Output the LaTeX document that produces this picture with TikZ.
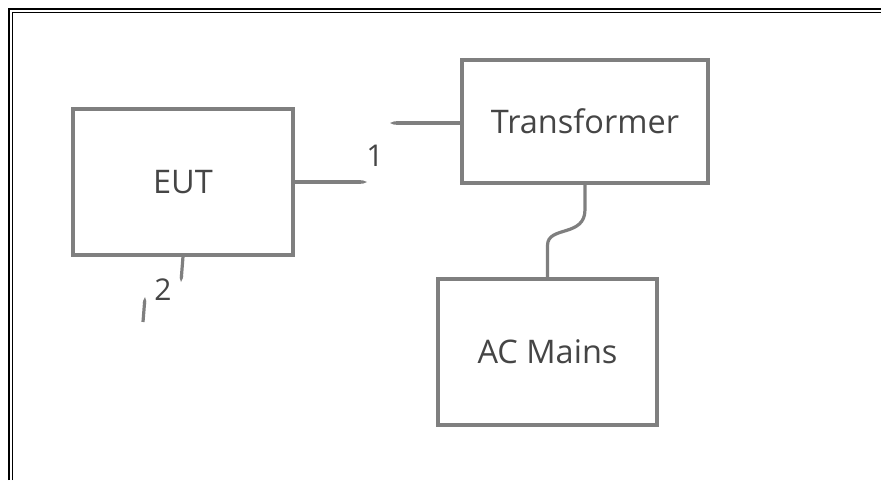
\documentclass[tikz,border=0pt]{standalone}
\usepackage{fontspec}
\setmainfont{Open Sans}
\usepackage{tikz}
\usetikzlibrary{positioning, arrows.meta, calc}

\definecolor{wiregray}{HTML}{7F7F7F}
\definecolor{textgray}{HTML}{454545}

\begin{document}
\begin{tikzpicture}
  [
    x=1pt, y=-1pt,
    block/.style={draw=wiregray, rectangle, line width=3.2pt, text=textgray,
      font=\fontsize{32.5}{36}\selectfont},
    wire/.style={draw=wiregray, line width=3.2pt},
    tipend/.style={wire, -{Triangle Cap[length=4pt]}},
    portlabel/.style={text=textgray, inner sep=0pt, font=\fontsize{30}{34}\selectfont},
    frameline/.style={draw=black}
  ]
    \useasboundingbox (0,0) rectangle (881,480);
    % =========================================================================
    % FRAME
    % =========================================================================
    \draw [frameline, line width=2.3pt] (9.2,480) -- (9.2,9.2) -- (881,9.2);
    \draw [frameline, line width=1.5pt] (12.5,480) -- (12.5,12.5) -- (881,12.5);

    % =========================================================================
    % NODES
    % =========================================================================
    \node [block, minimum width=220pt, minimum height=146pt] (eut) at (183,182) {EUT};
    \node [block, minimum width=246pt, minimum height=123pt] (trafo) at (585,121.5) {Transformer};
    \node [block, minimum width=219pt, minimum height=146pt] (mains) at (547.5,352) {AC Mains};

    \node [portlabel] (p1) at (375,156) {1};
    \node [portlabel] (p2) at (163,290) {2};

    \coordinate (p1a) at (367,182);
    \coordinate (p1b) at (390,123);
    \coordinate (p2a) at (181,282);
    \coordinate (p2b) at (145,297);
    \coordinate (p2c) at (143,322);

    % =========================================================================
    % PATHS
    % =========================================================================
    % --- PORT 1 ---
    \draw [tipend] (eut.east |- p1a) -- (p1a);
    \draw [tipend] (trafo.west |- p1b) -- (p1b);
    % --- PORT 2 ---
    \draw [tipend] (eut.south) -- (p2a);
    \draw [tipend] (p2c) -- (p2b);
    % --- SUPPLY ---
    \draw [wire] (trafo.south) -- ++(0,25)
      .. controls +(0,28) and +(0,-20) .. ($(mains.north) + (0,-32)$) -- (mains.north);

  \end{tikzpicture}
\end{document}
